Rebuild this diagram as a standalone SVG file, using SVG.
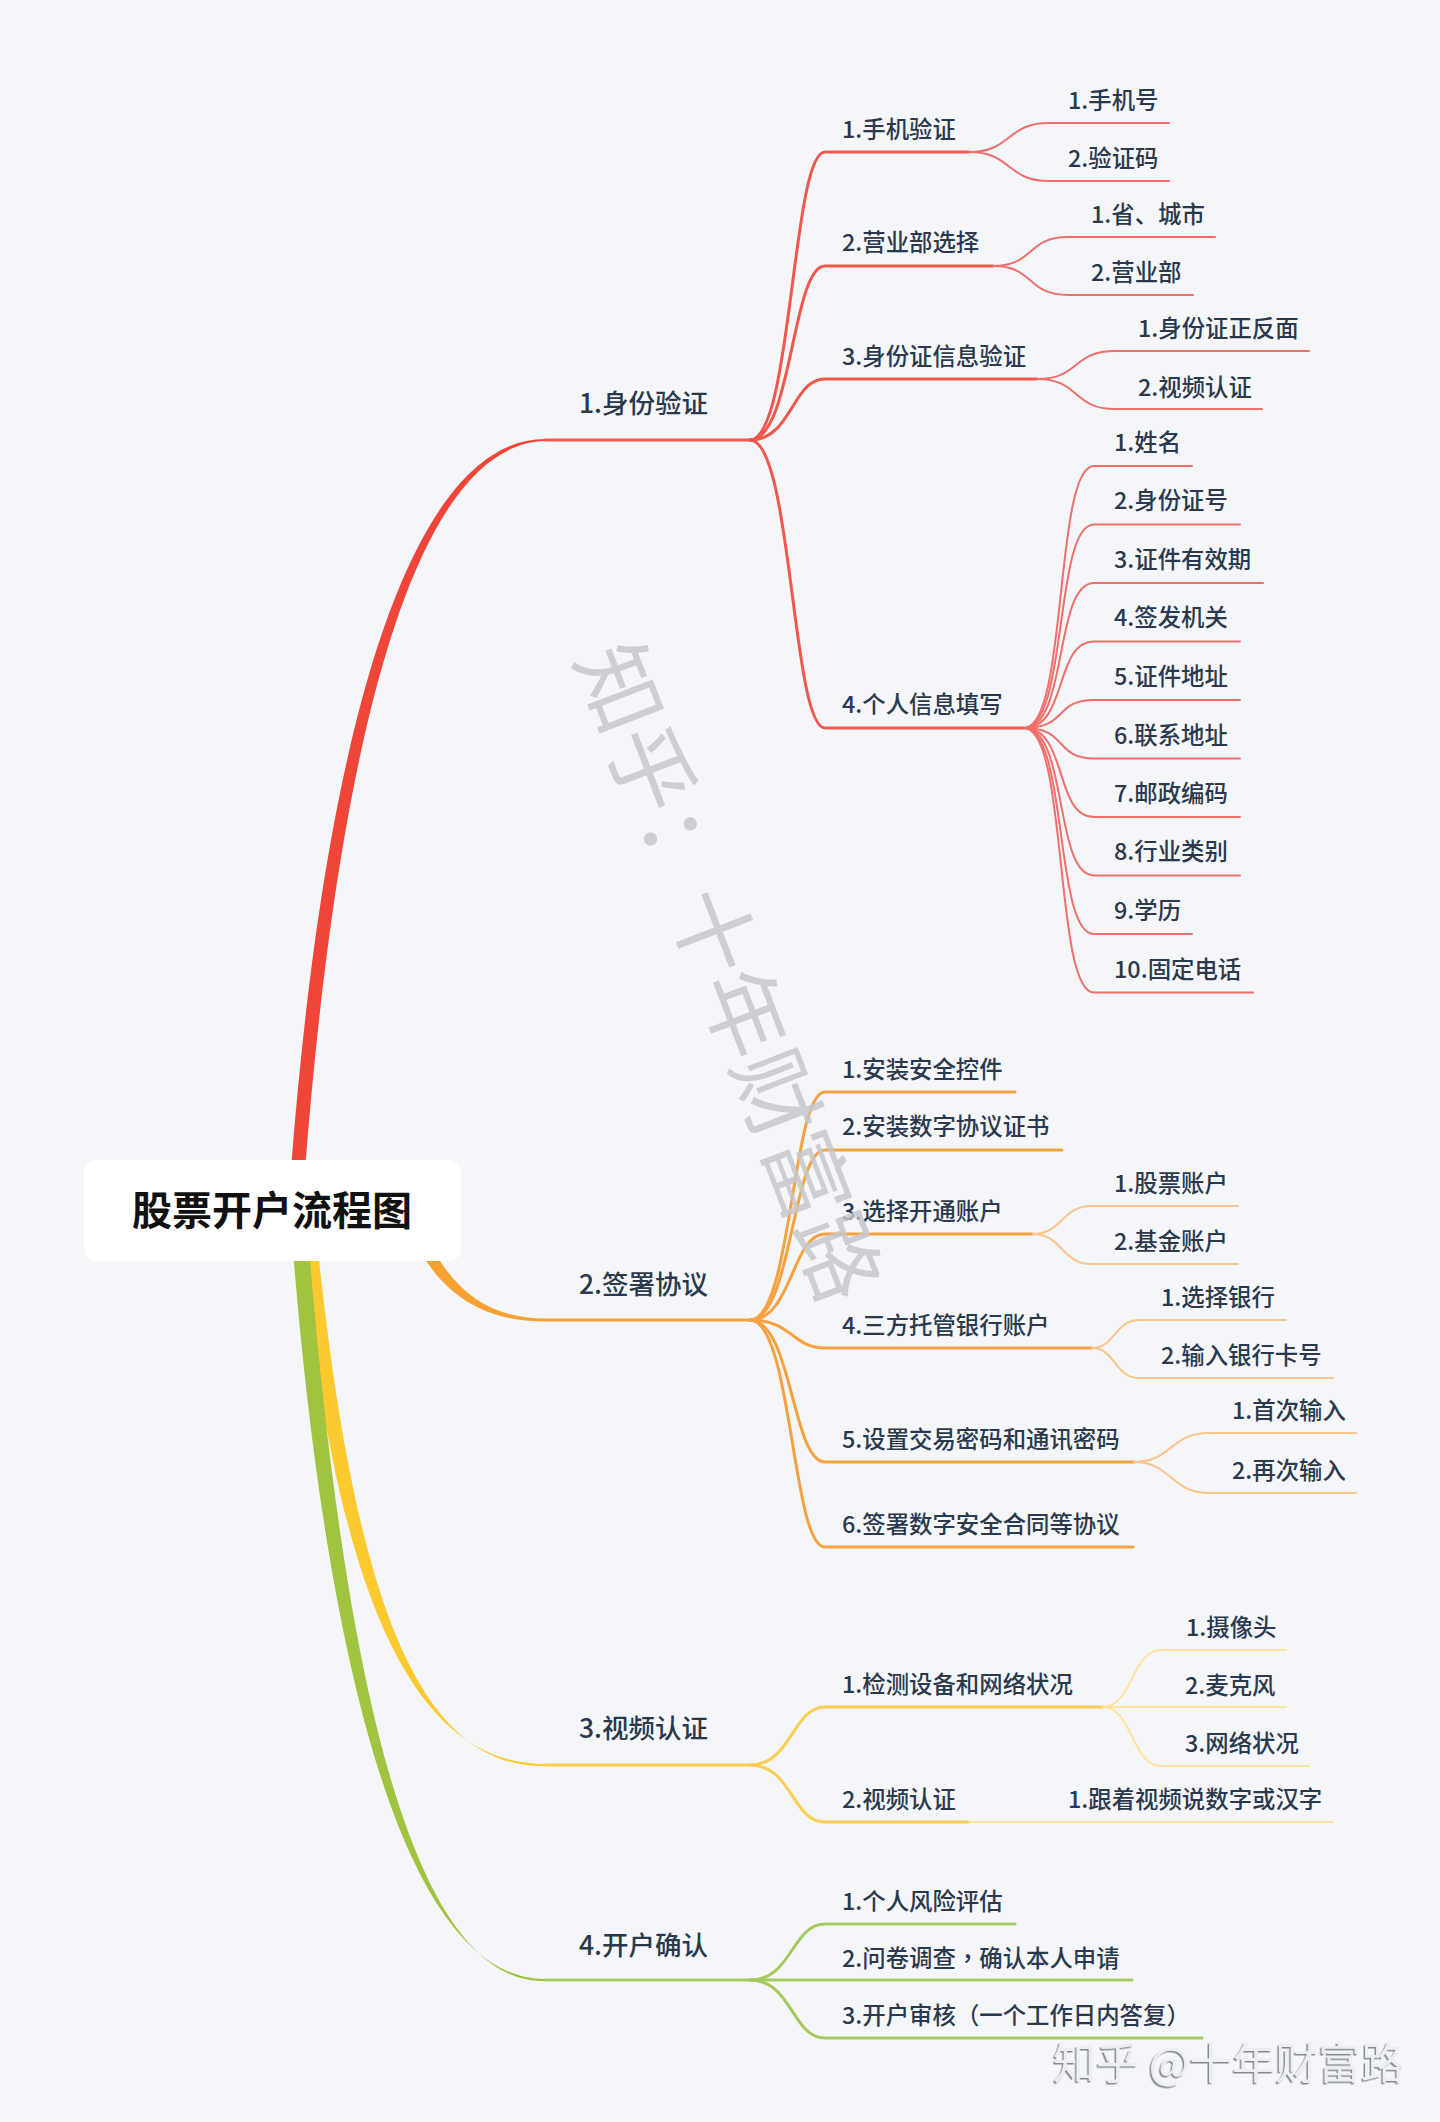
<svg xmlns="http://www.w3.org/2000/svg" width="1440" height="2122" viewBox="0 0 1440 2122">
<style>
text{font-family:"Noto Sans CJK SC","Noto Sans",sans-serif;fill:#2b394c}
.t1{font-size:26.500px;font-weight:500}
.t2,.t3{font-size:23.400px;font-weight:500}
.cp{font-family:"Noto Sans CJK TC","Noto Sans",sans-serif}
.root{font-size:40px;font-weight:700;fill:#111;text-anchor:middle}
.mark{font-size:87px;font-weight:400;fill:#c6c7cb;fill-opacity:.85}
.sign{font-size:43px;fill:#eceef1;filter:url(#emboss)}
path{fill:none;stroke-linecap:round}
.l2{stroke-width:3}
.l3{stroke-width:2}
.r.l2{stroke:#f0584e}.r.l3{stroke:#ef6f6a}
.o.l2{stroke:#f7a240}.o.l3{stroke:#fbc48a}
.y.l2{stroke:#fbcf55}.y.l3{stroke:#fde49a}
.g.l2{stroke:#a5c95c}
.trunk{stroke:none}
</style>
<defs><filter id="emboss" x="-5%" y="-20%" width="110%" height="140%"><feDropShadow dx="-1.5" dy="1.5" stdDeviation="0.6" flood-color="#868a90"/></filter></defs>
<rect width="1440" height="2122" fill="#f5f6fa"/>
<g id="connectors">
<path class="trunk" style="fill:#f0463a" d="M288,1211C323,700 418,439 545,439L545,441C424,444 338,700 302,1211Z"/>
<path class="trunk" style="fill:#f8a030" d="M414,1240C444,1300 490,1321.500 545,1321.500L545,1318.500C494,1318.500 456,1296 428,1240Z"/>
<path class="trunk" style="fill:#fcc92f" d="M298,1211C330,1560 400,1764 545,1764L545,1766C406,1769 348,1560 314,1211Z"/>
<path class="trunk" style="fill:#a0c440" d="M290,1211C318,1600 390,1979 545,1979L545,1981C396,1984 336,1600 306,1211Z"/>
<g>
<path class="r l2" d="M545,440H750"/><path class="o l2" d="M545,1320H750"/><path class="y l2" d="M545,1765H750"/><path class="g l2" d="M545,1980H750"/>
</g>
<g>
<path class="r l2" d="M750,440C792,440 792,152 825,152H969"/>
<path class="r l2" d="M750,440C792,440 792,266 825,266H993"/>
<path class="r l2" d="M750,440C792,440 792,379 825,379H1037"/>
<path class="r l2" d="M750,440C792,440 792,728 825,728H1024"/>
<path class="r l3" d="M969,152C1012,152 1006,123 1049,123H1169"/>
<path class="r l3" d="M969,152C1012,152 1006,181 1049,181H1169"/>
<path class="r l3" d="M993,266C1035,266 1026,237 1068,237H1215"/>
<path class="r l3" d="M993,266C1035,266 1026,295 1068,295H1193"/>
<path class="r l3" d="M1037,379C1080,379 1072,351 1115,351H1309"/>
<path class="r l3" d="M1037,379C1080,379 1072,409 1115,409H1262"/>
<path class="r l3" d="M1024,728C1068,728 1054,466 1094,466H1192"/>
<path class="r l3" d="M1024,728C1068,728 1054,524.500 1094,524.500H1240"/>
<path class="r l3" d="M1024,728C1068,728 1054,583 1094,583H1263"/>
<path class="r l3" d="M1024,728C1068,728 1054,641.500 1094,641.500H1240"/>
<path class="r l3" d="M1024,728C1068,728 1054,700 1094,700H1240"/>
<path class="r l3" d="M1024,728C1068,728 1054,758.500 1094,758.500H1240"/>
<path class="r l3" d="M1024,728C1068,728 1054,817 1094,817H1240"/>
<path class="r l3" d="M1024,728C1068,728 1054,875.500 1094,875.500H1240"/>
<path class="r l3" d="M1024,728C1068,728 1054,934 1094,934H1192"/>
<path class="r l3" d="M1024,728C1068,728 1054,992.500 1094,992.500H1253"/>
</g>
<g>
<path class="o l2" d="M750,1320C792,1320 792,1092 825,1092H1015"/>
<path class="o l2" d="M750,1320C792,1320 792,1150 825,1150H1062"/>
<path class="o l2" d="M750,1320C792,1320 792,1234 825,1234H1033"/>
<path class="o l2" d="M750,1320C792,1320 792,1348 825,1348H1092"/>
<path class="o l2" d="M750,1320C792,1320 792,1462 825,1462H1134"/>
<path class="o l2" d="M750,1320C792,1320 792,1547 825,1547H1133"/>
<path class="o l3" d="M1033,1234C1062,1234 1062,1206 1091,1206H1238"/>
<path class="o l3" d="M1033,1234C1062,1234 1062,1264 1091,1264H1238"/>
<path class="o l3" d="M1092,1348C1115,1348 1115,1320 1139,1320H1286"/>
<path class="o l3" d="M1092,1348C1115,1348 1115,1378 1139,1378H1333"/>
<path class="o l3" d="M1134,1462C1172,1462 1170,1433 1209,1433H1356"/>
<path class="o l3" d="M1134,1462C1172,1462 1170,1493 1209,1493H1356"/>
</g>
<g>
<path class="y l2" d="M750,1765C792,1765 792,1707 825,1707H1103"/>
<path class="y l2" d="M750,1765C792,1765 792,1822 825,1822H969"/>
<path class="y l3" d="M1103,1707C1132,1707 1132,1650 1161,1650H1286"/>
<path class="y l3" d="M1103,1707H1286"/>
<path class="y l3" d="M1103,1707C1132,1707 1132,1766 1161,1766H1309"/>
<path class="y l3" d="M969,1822H1333"/>
</g>
<g>
<path class="g l2" d="M750,1980C792,1980 792,1924 825,1924H1015"/>
<path class="g l2" d="M750,1980H1132"/>
<path class="g l2" d="M750,1980C792,1980 792,2038 825,2038H1202"/>
</g>
</g>
<g id="root"><rect x="84" y="1160" width="377" height="101" rx="12" fill="#fff"/><text class="root" x="272" y="1225">股票开户流程图</text></g>
<g id="n1"><text class="t1" x="579" y="413">1.身份验证</text></g>
<g id="n1-1"><text class="t2" x="842" y="138">1.手机验证</text></g>
<g id="n1-1-1"><text class="t3" x="1068" y="109">1.手机号</text></g>
<g id="n1-1-2"><text class="t3" x="1068" y="167">2.验证码</text></g>
<g id="n1-2"><text class="t2" x="842" y="251">2.营业部选择</text></g>
<g id="n1-2-1"><text class="t3" x="1091" y="223">1.省、城市</text></g>
<g id="n1-2-2"><text class="t3" x="1091" y="281">2.营业部</text></g>
<g id="n1-3"><text class="t2" x="842" y="365">3.身份证信息验证</text></g>
<g id="n1-3-1"><text class="t3" x="1138" y="337">1.身份证正反面</text></g>
<g id="n1-3-2"><text class="t3" x="1138" y="396">2.视频认证</text></g>
<g id="n1-4"><text class="t2" x="842" y="713">4.个人信息填写</text></g>
<g id="n1-4-1"><text class="t3" x="1114" y="451">1.姓名</text></g>
<g id="n1-4-2"><text class="t3" x="1114" y="509">2.身份证号</text></g>
<g id="n1-4-3"><text class="t3" x="1114" y="568">3.证件有效期</text></g>
<g id="n1-4-4"><text class="t3" x="1114" y="626">4.签发机关</text></g>
<g id="n1-4-5"><text class="t3" x="1114" y="685">5.证件地址</text></g>
<g id="n1-4-6"><text class="t3" x="1114" y="744">6.联系地址</text></g>
<g id="n1-4-7"><text class="t3" x="1114" y="802">7.邮政编码</text></g>
<g id="n1-4-8"><text class="t3" x="1114" y="860">8.行业类别</text></g>
<g id="n1-4-9"><text class="t3" x="1114" y="919">9.学历</text></g>
<g id="n1-4-10"><text class="t3" x="1114" y="978">10.固定电话</text></g>
<g id="n2"><text class="t1" x="579" y="1294">2.签署协议</text></g>
<g id="n2-1"><text class="t2" x="842" y="1078">1.安装安全控件</text></g>
<g id="n2-2"><text class="t2" x="842" y="1135">2.安装数字协议证书</text></g>
<g id="n2-3"><text class="t2" x="842" y="1220">3.选择开通账户</text></g>
<g id="n2-3-1"><text class="t3" x="1114" y="1192">1.股票账户</text></g>
<g id="n2-3-2"><text class="t3" x="1114" y="1250">2.基金账户</text></g>
<g id="n2-4"><text class="t2" x="842" y="1334">4.三方托管银行账户</text></g>
<g id="n2-4-1"><text class="t3" x="1161" y="1306">1.选择银行</text></g>
<g id="n2-4-2"><text class="t3" x="1161" y="1364">2.输入银行卡号</text></g>
<g id="n2-5"><text class="t2" x="842" y="1448">5.设置交易密码和通讯密码</text></g>
<g id="n2-5-1"><text class="t3" x="1232" y="1419">1.首次输入</text></g>
<g id="n2-5-2"><text class="t3" x="1232" y="1479">2.再次输入</text></g>
<g id="n2-6"><text class="t2" x="842" y="1533">6.签署数字安全合同等协议</text></g>
<g id="n3"><text class="t1" x="579" y="1738">3.视频认证</text></g>
<g id="n3-1"><text class="t2" x="842" y="1693">1.检测设备和网络状况</text></g>
<g id="n3-1-1"><text class="t3" x="1186" y="1636">1.摄像头</text></g>
<g id="n3-1-2"><text class="t3" x="1185" y="1694">2.麦克风</text></g>
<g id="n3-1-3"><text class="t3" x="1185" y="1752">3.网络状况</text></g>
<g id="n3-2"><text class="t2" x="842" y="1808">2.视频认证</text></g>
<g id="n3-2-1"><text class="t3" x="1068" y="1808">1.跟着视频说数字或汉字</text></g>
<g id="n4"><text class="t1" x="579" y="1955">4.开户确认</text></g>
<g id="n4-1"><text class="t2" x="842" y="1910">1.个人风险评估</text></g>
<g id="n4-2"><text class="t2" x="842" y="1967">2.问卷调查<tspan class="cp">，</tspan>确认本人申请</text></g>
<g id="n4-3"><text class="t2" x="842" y="2024">3.开户审核<tspan class="cp">（</tspan>一个工作日内答复<tspan class="cp">）</tspan></text></g>
<text class="mark" transform="translate(618,688) rotate(69)" x="-43" y="30">知乎：十年财富路</text>
<text class="sign" x="1053" y="2079">知乎 @十年财富路</text>
</svg>
